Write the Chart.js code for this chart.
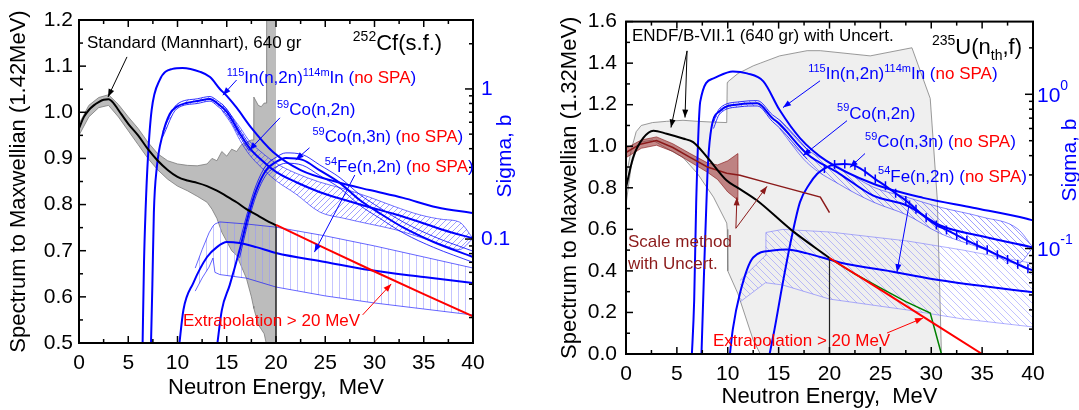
<!DOCTYPE html>
<html>
<head>
<meta charset="utf-8">
<script src="https://cdn.jsdelivr.net/npm/chart.js@4.4.1/dist/chart.umd.min.js"></script>
<style>
  html, body { margin: 0; padding: 0; background: #fff; }
  #quadro { position: relative; width: 1079px; height: 410px; overflow: hidden; }
  canvas { position: absolute; top: 0; }
</style>
</head>
<body>
<div id="quadro">
  <canvas id="graficoCf" width="540" height="410" style="left:0"></canvas>
  <canvas id="graficoU" width="539" height="410" style="left:540px"></canvas>
</div>
<script>
// ---------- eixos ----------
var eixo_x_ticks = [0, 5, 10, 15, 20, 25, 30, 35, 40];
var cf_sigma_ticks = [1, 0.1];
var cf_sigma_rotulos = ['1', '0.1'];
var u_sigma_ticks = [1, 0.1];
var u_sigma_expoentes = ['0', '-1'];

// ---------- painel esquerdo: 252Cf(s.f.) ----------
// espectro padrao (Mannhart) / Maxwelliana
var cf_e = [0, 0.5, 1, 1.5, 2, 2.5, 3, 3.5, 4, 5, 6, 7, 8, 9, 10, 11, 12, 13, 14, 15, 16, 17, 18, 19, 20];
var cf_padrao = [0.965, 0.99, 1.005, 1.015, 1.022, 1.027, 1.028, 1.02, 1.005, 0.975, 0.95, 0.92, 0.895, 0.875, 0.86, 0.852, 0.847, 0.84, 0.83, 0.818, 0.805, 0.79, 0.778, 0.766, 0.755];
// incerteza (faixa cinza)
var cf_banda_e = [0, 1, 2, 3, 4, 5, 6, 7, 8, 9, 10, 11, 12, 13, 13.5, 14, 14.5, 15, 15.5, 16, 16.5, 17, 17.5, 17.7, 17.75, 18.2, 18.5, 18.8, 19, 19.05, 20];
var cf_banda_hi = [0.975, 1.015, 1.032, 1.038, 1.017, 0.99, 0.965, 0.935, 0.91, 0.895, 0.888, 0.885, 0.884, 0.888, 0.9, 0.895, 0.915, 0.905, 0.92, 0.915, 0.93, 0.935, 0.94, 0.94, 1.033, 1.015, 1.012, 1.02, 1.02, 1.2, 1.2];
var cf_banda_lo = [0.95, 0.99, 1.01, 1.015, 0.99, 0.96, 0.93, 0.9, 0.875, 0.855, 0.84, 0.83, 0.818, 0.805, 0.79, 0.77, 0.74, 0.72, 0.70, 0.69, 0.665, 0.64, 0.6, 0.58, 0.575, 0.54, 0.53, 0.52, 0.5, 0.5, 0.5];
var cf_vert_e = [20, 20];
var cf_vert = [0.755, 0.5];
var cf_extrap_e = [20, 25, 30, 35, 40];
var cf_extrap = [0.756, 0.705, 0.655, 0.606, 0.558];
// secoes de choque (barn)
var cf_in_e = [6.45, 6.6, 6.76, 7.0, 7.37, 8.2, 9.5, 10.5, 12.3, 13.3, 14.3, 15, 16, 17.5, 19.7, 22.5, 26.2, 29.5, 32.9, 36.3, 40];
var cf_in = [0.019, 0.07, 0.156, 0.35, 0.72, 1.15, 1.36, 1.38, 1.30, 1.20, 1.0, 0.9, 0.75, 0.55, 0.38, 0.288, 0.24, 0.212, 0.188, 0.163, 0.149];
var cf_co2n_e = [7.3, 7.45, 7.6, 7.9, 8.5, 9.2, 9.9, 10.9, 12, 13.3, 14, 15, 16.3, 17.3, 18.5, 20, 22, 24.4, 27, 29.5, 32, 34.6, 37, 40];
var cf_co2n = [0.019, 0.05, 0.15, 0.3, 0.5, 0.68, 0.76, 0.807, 0.83, 0.858, 0.807, 0.703, 0.509, 0.405, 0.337, 0.28, 0.24, 0.206, 0.182, 0.163, 0.147, 0.13, 0.115, 0.101];
var cf_co2n_bd_e = [8.5, 9.9, 12, 13.3, 14, 15, 16.3, 17.3];
var cf_co2n_bd_hi = [0.52, 0.785, 0.86, 0.89, 0.84, 0.735, 0.535, 0.425];
var cf_co2n_bd_lo = [0.48, 0.735, 0.8, 0.83, 0.775, 0.67, 0.485, 0.385];
var cf_co2n_larga_e = [14.5, 15.5, 16.3, 17.3, 18.5, 20, 22, 24.4, 27, 29.5, 32, 34.6, 37, 38.6, 40];
var cf_co2n_larga_hi = [0.8, 0.66, 0.56, 0.45, 0.38, 0.32, 0.275, 0.24, 0.215, 0.19, 0.165, 0.145, 0.135, 0.13, 0.101];
var cf_co2n_larga_lo = [0.72, 0.58, 0.46, 0.365, 0.3, 0.245, 0.2, 0.152, 0.137, 0.126, 0.116, 0.103, 0.091, 0.085, 0.101];
var cf_co3n_e = [14.0, 14.5, 15.3, 16.3, 17.2, 18, 19, 20, 21, 22.7, 24.4, 26.5, 28.5, 30.5, 33, 36, 40];
var cf_co3n = [0.019, 0.0336, 0.0493, 0.0844, 0.1445, 0.212, 0.288, 0.326, 0.347, 0.337, 0.288, 0.236, 0.182, 0.149, 0.1186, 0.0956, 0.0759];
var cf_co3n_bd_e = [16.3, 17.2, 18, 19, 20, 21, 22.7, 24.4, 26.5, 28.5, 30.5, 33, 36, 40];
var cf_co3n_bd_hi = [0.095, 0.158, 0.23, 0.31, 0.35, 0.375, 0.365, 0.313, 0.256, 0.198, 0.162, 0.129, 0.104, 0.083];
var cf_co3n_bd_lo = [0.075, 0.132, 0.196, 0.268, 0.302, 0.32, 0.31, 0.266, 0.218, 0.168, 0.138, 0.109, 0.088, 0.07];
var cf_fe_e = [10.15, 10.6, 11.6, 13, 14, 15, 16.3, 18, 20, 25, 29.5, 35, 40];
var cf_fe = [0.019, 0.0337, 0.0509, 0.0759, 0.0884, 0.0956, 0.0941, 0.0884, 0.0807, 0.0703, 0.0621, 0.0558, 0.0509];
var cf_fe_bd_e = [11.8, 12.5, 13.2, 13.6, 13.8, 14.3, 17, 20, 25, 30, 35, 40];
var cf_fe_bd_hi = [0.0641, 0.085, 0.11, 0.122, 0.126, 0.13, 0.126, 0.12, 0.105, 0.09, 0.076, 0.0641];
var cf_fe_bd_lo = [0.045, 0.055, 0.065, 0.0747, 0.06, 0.058, 0.0549, 0.0479, 0.0418, 0.0375, 0.0342, 0.0312];

// ---------- painel direito: 235U(nth,f) ----------
var u_endf_e = [0, 0.7, 1.7, 2.7, 4, 5.6, 6.6, 8, 9.9, 11, 12.85, 16.3, 20];
var u_endf = [0.8, 0.946, 1.04, 1.075, 1.06, 1.037, 1.02, 0.946, 0.835, 0.8, 0.74, 0.595, 0.462];
var u_banda_e = [0, 0.5, 1, 1.5, 2.6, 4, 5.6, 7, 8.6, 9.9, 9.95, 10, 11, 12.5, 13.2, 15.1, 17.8, 19.1, 24, 28.1, 29.9, 30.6, 31];
var u_banda_hi = [0.85, 0.98, 1.07, 1.1, 1.114, 1.12, 1.125, 1.12, 1.116, 1.114, 1.306, 1.31, 1.35, 1.387, 1.40, 1.435, 1.46, 1.46, 1.435, 1.474, 1.23, 0.74, 0];
var u_banda_lo = [0.72, 0.9, 0.98, 1.02, 1.03, 0.99, 0.946, 0.87, 0.755, 0.63, 0.6, 0.4, 0.29, 0.067, 0, 0, 0, 0, 0, 0, 0, 0, 0];
var u_vert_e = [20, 20];
var u_vert = [0.462, 0];
var u_extrap_e = [20, 25, 30, 35];
var u_extrap = [0.462, 0.31, 0.155, 0];
var u_verde_e = [20, 22.5, 25, 27.5, 29.9, 31];
var u_verde = [0.462, 0.385, 0.318, 0.252, 0.197, 0];
var u_escala_e = [0, 1.4, 3, 4.6, 6.3, 8, 9.9, 11.2, 14.2, 19.1, 20];
var u_escala = [0.97, 1.01, 1.027, 0.994, 0.946, 0.9, 0.87, 0.86, 0.82, 0.755, 0.68];
var u_escala_bd_e = [0, 1.5, 3, 4.6, 6.3, 8, 9, 10, 11, 11.01];
var u_escala_bd_hi = [0.99, 1.03, 1.045, 1.012, 0.965, 0.92, 0.91, 0.93, 0.965, 0.86];
var u_escala_bd_lo = [0.945, 0.99, 1.005, 0.975, 0.925, 0.875, 0.84, 0.78, 0.74, 0.86];
var u_in_e = [6.45, 6.7, 6.9, 7.3, 8.6, 10.5, 11.9, 13.5, 15.1, 17.1, 19.7, 24.3, 29.2, 34.1, 39.4, 40];
var u_in = [0.019, 0.046, 0.2, 0.9, 1.268, 1.407, 1.366, 1.213, 0.79, 0.52, 0.37, 0.263, 0.213, 0.184, 0.156, 0.152];
var u_co2n_e = [7.4, 7.6, 8.0, 8.3, 9.2, 11.2, 12.9, 14.4, 15.1, 17.8, 21, 24.3, 27.6, 30.9, 35, 40];
var u_co2n = [0.019, 0.05, 0.3, 0.55, 0.777, 0.862, 0.875, 0.7, 0.641, 0.41, 0.305, 0.22, 0.19, 0.141, 0.12, 0.1015];
var u_co2n_bd_e = [8.6, 9.2, 11.2, 12.9, 14.4, 15.1, 17.8];
var u_co2n_bd_hi = [0.66, 0.81, 0.895, 0.91, 0.735, 0.68, 0.44];
var u_co2n_bd_lo = [0.6, 0.745, 0.83, 0.84, 0.665, 0.605, 0.38];
var u_co2n_larga_e = [15.1, 17.8, 21, 24.3, 27.6, 30.9, 35, 38.5, 40];
var u_co2n_larga_hi = [0.68, 0.44, 0.335, 0.25, 0.215, 0.185, 0.16, 0.134, 0.1015];
var u_co2n_larga_lo = [0.6, 0.36, 0.26, 0.2, 0.165, 0.125, 0.1, 0.08, 0.1015];
var u_co3n_e = [14, 14.6, 15.4, 16.3, 17.1, 18.0, 18.8, 19.5, 20.5, 21.5, 22.5, 23.5, 24.5, 25.5, 26.5, 27.5, 28.5, 29.5, 30.5, 31.5, 32.5, 33.5, 34.5, 35.5, 36.5, 37.5, 38.5, 39.5, 40];
var u_co3n = [0.019, 0.03, 0.0594, 0.12, 0.2, 0.26, 0.305, 0.33, 0.35, 0.353, 0.345, 0.315, 0.282, 0.255, 0.228, 0.205, 0.18, 0.158, 0.142, 0.132, 0.122, 0.113, 0.105, 0.098, 0.091, 0.085, 0.079, 0.074, 0.0723];
var u_fe_e = [10.15, 10.5, 11.2, 12.5, 14.4, 15.8, 17.8, 21, 26.6, 30.9, 40];
var u_fe = [0.019, 0.03, 0.0513, 0.0875, 0.097, 0.0985, 0.093, 0.0812, 0.07, 0.0622, 0.052];
var u_fe_bd_e = [11.2, 13.7, 13.75, 15.4, 20, 27.6, 33, 40];
var u_fe_bd_hi = [0.062, 0.09, 0.127, 0.133, 0.128, 0.112, 0.098, 0.08];
var u_fe_bd_lo = [0.045, 0.06, 0.06, 0.058, 0.047, 0.04, 0.035, 0.031];

var AZUL = '#0000ff';
var VERMELHO = '#ff0000';
var VINHO = '#8b1a1a';
var FONTE = '"Liberation Sans", Arial, sans-serif';
Chart.defaults.font.family = FONTE;

// textos e setas (posicoes em unidades dos eixos x / y esquerdo)
var cf_notas = [
  { e: 0.81, v: 1.139, tam: 17, cor: '#000', partes: [{ t: 'Standard (Mannhart), 640 gr' }] },
  { e: 27.8, v: 1.135, tam: 22, cor: '#000', partes: [{ t: '252', sup: 1 }, { t: 'Cf(s.f.)' }] },
  { e: 15.0, v: 1.0635, tam: 17, cor: AZUL, partes: [{ t: '115', sup: 1 }, { t: 'In(n,2n)' }, { t: '114m', sup: 1 }, { t: 'In (' }, { t: 'no SPA', c: VERMELHO }, { t: ')' }] },
  { e: 20.1, v: 0.994, tam: 17, cor: AZUL, partes: [{ t: '59', sup: 1 }, { t: 'Co(n,2n)' }] },
  { e: 23.7, v: 0.936, tam: 17, cor: AZUL, partes: [{ t: '59', sup: 1 }, { t: 'Co(n,3n) (' }, { t: 'no SPA', c: VERMELHO }, { t: ')' }] },
  { e: 24.95, v: 0.871, tam: 17, cor: AZUL, partes: [{ t: '54', sup: 1 }, { t: 'Fe(n,2n) (' }, { t: 'no SPA', c: VERMELHO }, { t: ')' }] },
  { e: 10.55, v: 0.537, tam: 17, cor: VERMELHO, partes: [{ t: 'Extrapolation > 20 MeV' }] }
];
var cf_setas = [
  { de: [4.87, 1.12], ate: [2.94, 1.033], cor: '#000' },
  { de: [16.0, 1.07], ate: [14.6, 1.037], cor: AZUL },
  { de: [20.4, 0.988], ate: [17.3, 0.918], cor: AZUL },
  { de: [23.4, 0.923], ate: [22.0, 0.897], cor: AZUL },
  { de: [28.0, 0.864], ate: [23.9, 0.697], cor: AZUL },
  { de: [28.8, 0.561], ate: [31.7, 0.628], cor: VERMELHO }
];
var u_notas = [
  { e: 0.59, v: 1.507, tam: 17, cor: '#000', partes: [{ t: 'ENDF/B-VII.1 (640 gr) with Uncert.' }] },
  { e: 30.07, v: 1.445, tam: 22, cor: '#000', partes: [{ t: '235', sup: 1 }, { t: 'U(n' }, { t: 'th', sub: 1 }, { t: ',f)' }] },
  { e: 17.9, v: 1.325, tam: 17, cor: AZUL, partes: [{ t: '115', sup: 1 }, { t: 'In(n,2n)' }, { t: '114m', sup: 1 }, { t: 'In (' }, { t: 'no SPA', c: VERMELHO }, { t: ')' }] },
  { e: 20.74, v: 1.133, tam: 17, cor: AZUL, partes: [{ t: '59', sup: 1 }, { t: 'Co(n,2n)' }] },
  { e: 23.49, v: 0.994, tam: 17, cor: AZUL, partes: [{ t: '59', sup: 1 }, { t: 'Co(n,3n) (' }, { t: 'no SPA', c: VERMELHO }, { t: ')' }] },
  { e: 24.77, v: 0.83, tam: 17, cor: AZUL, partes: [{ t: '54', sup: 1 }, { t: 'Fe(n,2n) (' }, { t: 'no SPA', c: VERMELHO }, { t: ')' }] },
  { e: 0.2, v: 0.514, tam: 17, cor: VINHO, partes: [{ t: 'Scale method' }] },
  { e: 0.2, v: 0.408, tam: 17, cor: VINHO, partes: [{ t: 'with Uncert.' }] },
  { e: 8.55, v: 0.038, tam: 17, cor: VERMELHO, partes: [{ t: 'Extrapolation > 20 MeV' }] }
];
var u_setas = [
  { de: [6.0, 1.459], ate: [4.42, 1.09], cor: '#000' },
  { de: [6.0, 1.459], ate: [5.8, 1.138], cor: '#000' },
  { de: [19.07, 1.315], ate: [15.43, 1.186], cor: AZUL },
  { de: [21.72, 1.123], ate: [17.4, 0.955], cor: AZUL },
  { de: [23.49, 0.965], ate: [22.0, 0.898], cor: AZUL },
  { de: [27.9, 0.739], ate: [26.63, 0.394], cor: AZUL },
  { de: [10.8, 0.605], ate: [10.9, 0.754], cor: VINHO },
  { de: [10.8, 0.605], ate: [13.86, 0.807], cor: VINHO },
  { de: [25.65, 0.101], ate: [29.19, 0.173], cor: VERMELHO }
];

function pontos(xs, ys) {
  return xs.map(function (x, i) { return { x: x, y: ys[i] }; });
}

function serie(xs, ys, eixo, extra) {
  var d = {
    data: pontos(xs, ys),
    yAxisID: eixo,
    borderColor: AZUL,
    borderWidth: 2,
    pointRadius: 0,
    fill: false,
    tension: 0
  };
  return Object.assign(d, extra || {});
}

function hachura(cor, tipo, passo) {
  var c = document.createElement('canvas');
  c.width = passo; c.height = passo;
  var g = c.getContext('2d');
  g.strokeStyle = cor;
  g.lineWidth = 1;
  g.beginPath();
  if (tipo === 'v') {
    g.moveTo(passo / 2, 0); g.lineTo(passo / 2, passo);
  } else if (tipo === '/') {
    g.moveTo(0, passo); g.lineTo(passo, 0);
    g.moveTo(-passo, passo); g.lineTo(passo, -passo);
    g.moveTo(0, 2 * passo); g.lineTo(2 * passo, 0);
  } else {
    g.moveTo(0, 0); g.lineTo(passo, passo);
    g.moveTo(-passo, 0); g.lineTo(passo, 2 * passo);
    g.moveTo(0, -passo); g.lineTo(2 * passo, passo);
  }
  g.stroke();
  return g.createPattern(c, 'repeat');
}

function textoRico(ctx, x, y, partes, tam, corBase) {
  var cx = x;
  ctx.textAlign = 'left';
  ctx.textBaseline = 'alphabetic';
  partes.forEach(function (p) {
    var pequeno = p.sup || p.sub;
    var t = pequeno ? Math.round(tam * 0.64) : tam;
    ctx.font = t + 'px ' + FONTE;
    ctx.fillStyle = p.c || corBase;
    var dy = p.sup ? -tam * 0.42 : (p.sub ? tam * 0.28 : 0);
    ctx.fillText(p.t, cx, y + dy);
    cx += ctx.measureText(p.t).width;
  });
}

function seta(ctx, x1, y1, x2, y2, cor) {
  var ang = Math.atan2(y2 - y1, x2 - x1);
  ctx.strokeStyle = cor;
  ctx.fillStyle = cor;
  ctx.lineWidth = 1;
  ctx.beginPath(); ctx.moveTo(x1, y1); ctx.lineTo(x2, y2); ctx.stroke();
  ctx.beginPath();
  ctx.moveTo(x2, y2);
  ctx.lineTo(x2 - 8 * Math.cos(ang) + 3 * Math.sin(ang), y2 - 8 * Math.sin(ang) - 3 * Math.cos(ang));
  ctx.lineTo(x2 - 8 * Math.cos(ang) - 3 * Math.sin(ang), y2 - 8 * Math.sin(ang) + 3 * Math.cos(ang));
  ctx.closePath(); ctx.fill();
}

// moldura, marcas internas, eixo log a direita e anotacoes
function criarDecoracao(cfg) {
  return {
    id: 'decoracao',
    afterDraw: function (chart) {
      var ctx = chart.ctx, a = chart.chartArea;
      var sx = chart.scales.x, sy = chart.scales.y, s2 = chart.scales.y2;
      ctx.save();
      ctx.strokeStyle = '#000';
      ctx.lineWidth = 1.5;
      function traco(x1, y1, x2, y2) { ctx.beginPath(); ctx.moveTo(x1, y1); ctx.lineTo(x2, y2); ctx.stroke(); }

      var xt = sx.ticks.map(function (t) { return t.value; });
      xt.forEach(function (v, i) {
        var p = sx.getPixelForValue(v);
        traco(p, a.bottom, p, a.bottom - 7);
        traco(p, a.top, p, a.top + 7);
        if (i < xt.length - 1) {
          var m = sx.getPixelForValue((v + xt[i + 1]) / 2);
          traco(m, a.bottom, m, a.bottom - 4);
          traco(m, a.top, m, a.top + 4);
        }
      });
      var yt = sy.ticks.map(function (t) { return t.value; });
      yt.forEach(function (v, i) {
        var p = sy.getPixelForValue(v);
        traco(a.left, p, a.left + 7, p);
        if (i < yt.length - 1) {
          var m = sy.getPixelForValue((v + yt[i + 1]) / 2);
          traco(a.left, m, a.left + 4, m);
        }
      });
      s2.ticks.forEach(function (t) {
        var v = t.value;
        var pot = Math.floor(Math.log10(v) + 1e-9);
        var sig = v / Math.pow(10, pot);
        if (Math.abs(sig - Math.round(sig)) > 1e-6) return;
        var p = s2.getPixelForValue(v);
        if (p < a.top || p > a.bottom) return;
        var maior = Math.round(sig) === 1;
        traco(a.right, p, a.right - (maior ? 8 : 4), p);
      });

      ctx.lineWidth = 2;
      ctx.strokeRect(a.left, a.top, a.right - a.left, a.bottom - a.top);

      // rotulos do eixo sigma
      ctx.fillStyle = AZUL;
      ctx.textBaseline = 'middle';
      ctx.textAlign = 'left';
      cfg.sigmaTicks.forEach(function (v, i) {
        var p = s2.getPixelForValue(v);
        if (cfg.sigmaRotulos) {
          ctx.font = '21px ' + FONTE;
          ctx.fillText(cfg.sigmaRotulos[i], a.right + cfg.dxRotulo, p);
        } else {
          ctx.font = '21px ' + FONTE;
          ctx.fillText('10', a.right + cfg.dxRotulo, p + 2);
          var w = ctx.measureText('10').width;
          ctx.font = '14px ' + FONTE;
          ctx.fillText(cfg.sigmaExp[i], a.right + cfg.dxRotulo + w, p - 8);
        }
      });
      ctx.save();
      ctx.translate(cfg.tituloSigma[0], cfg.tituloSigma[1]);
      ctx.rotate(-Math.PI / 2);
      ctx.textAlign = 'center';
      ctx.font = '21px ' + FONTE;
      ctx.fillText('Sigma, b', 0, 0);
      ctx.restore();

      cfg.setas.forEach(function (s) {
        seta(ctx, sx.getPixelForValue(s.de[0]), sy.getPixelForValue(s.de[1]),
          sx.getPixelForValue(s.ate[0]), sy.getPixelForValue(s.ate[1]), s.cor);
      });
      cfg.notas.forEach(function (n) {
        textoRico(ctx, sx.getPixelForValue(n.e), sy.getPixelForValue(n.v), n.partes, n.tam, n.cor);
      });
      ctx.restore();
    }
  };
}

function opcoes(medidas, yMin, yMax, yPasso, sMin, sMax, titulo) {
  return {
    responsive: false,
    animation: false,
    events: [],
    layout: { padding: { top: medidas.topo, left: 0, right: 0, bottom: 0 } },
    plugins: { legend: { display: false }, tooltip: { enabled: false } },
    scales: {
      x: {
        type: 'linear', min: 0, max: 40,
        afterBuildTicks: function (s) { s.ticks = eixo_x_ticks.map(function (v) { return { value: v }; }); },
        ticks: { color: '#000', font: { size: 21 }, padding: medidas.padX, maxRotation: 0, autoSkip: false },
        grid: { display: false, drawTicks: false },
        border: { display: false },
        title: { display: true, text: 'Neutron Energy,  MeV', color: '#000', font: { size: 22 }, padding: { top: 0, bottom: medidas.tituloX } },
        afterFit: function (s) { s.height = medidas.altX; }
      },
      y: {
        type: 'linear', position: 'left', min: yMin, max: yMax,
        ticks: { stepSize: yPasso, color: '#000', font: { size: 21 }, padding: medidas.padY, callback: function (v) { return v.toFixed(1); } },
        grid: { display: false, drawTicks: false },
        border: { display: false },
        title: { display: true, text: titulo, color: '#000', font: { size: 22 }, padding: { top: medidas.tituloY, bottom: 0 } },
        afterFit: function (s) { s.width = medidas.largY; }
      },
      y2: {
        type: 'logarithmic', position: 'right', min: sMin, max: sMax,
        ticks: { display: false },
        grid: { display: false, drawTicks: false },
        border: { display: false },
        afterFit: function (s) { s.width = medidas.largY2; }
      }
    }
  };
}

// ---------- grafico esquerdo ----------
var cinzaHach = hachura('rgba(80,80,255,0.55)', '/', 6);
var vertHach = hachura('rgba(150,150,255,0.55)', 'v', 7);

var dadosCf = [
  serie(cf_extrap_e, cf_extrap, 'y', { borderColor: VERMELHO, borderWidth: 2 }),
  serie(cf_e, cf_padrao, 'y', { borderColor: '#000', borderWidth: 2, cubicInterpolationMode: 'monotone' }),
  serie(cf_vert_e, cf_vert, 'y', { borderColor: '#222', borderWidth: 1.5 }),
  serie(cf_in_e, cf_in, 'y2', { cubicInterpolationMode: 'monotone' }),
  serie(cf_co2n_e, cf_co2n, 'y2', { cubicInterpolationMode: 'monotone' }),
  serie(cf_co3n_e, cf_co3n, 'y2', { cubicInterpolationMode: 'monotone' }),
  serie(cf_fe_e, cf_fe, 'y2', { cubicInterpolationMode: 'monotone' }),
  serie(cf_co3n_bd_e, cf_co3n_bd_hi, 'y2', { borderWidth: 0.8, cubicInterpolationMode: 'monotone' }),
  serie(cf_co3n_bd_e, cf_co3n_bd_lo, 'y2', { borderWidth: 0.8, cubicInterpolationMode: 'monotone' }),
  serie(cf_co2n_bd_e, cf_co2n_bd_hi, 'y2', { borderWidth: 0.8, cubicInterpolationMode: 'monotone' }),
  serie(cf_co2n_bd_e, cf_co2n_bd_lo, 'y2', { borderWidth: 0.8, cubicInterpolationMode: 'monotone', fill: '-1', backgroundColor: cinzaHach }),
  serie(cf_co2n_larga_e, cf_co2n_larga_hi, 'y2', { borderWidth: 0.8, borderColor: 'rgba(0,0,255,0.7)', cubicInterpolationMode: 'monotone' }),
  serie(cf_co2n_larga_e, cf_co2n_larga_lo, 'y2', { borderWidth: 0.8, borderColor: 'rgba(0,0,255,0.7)', cubicInterpolationMode: 'monotone', fill: '-1', backgroundColor: cinzaHach }),
  serie(cf_fe_bd_e, cf_fe_bd_hi, 'y2', { borderWidth: 0.8, borderColor: 'rgba(0,0,255,0.75)' }),
  serie(cf_fe_bd_e, cf_fe_bd_lo, 'y2', { borderWidth: 0.8, borderColor: 'rgba(0,0,255,0.75)', fill: '-1', backgroundColor: vertHach }),
  serie(cf_banda_e, cf_banda_hi, 'y', { borderWidth: 0.8, borderColor: '#7a7a7a' }),
  serie(cf_banda_e, cf_banda_lo, 'y', { borderWidth: 0.8, borderColor: '#7a7a7a', fill: '-1', backgroundColor: '#bcbcbc' })
];

var Grafico_Cf = new Chart(document.getElementById('graficoCf'), {
  type: 'line',
  data: { datasets: dadosCf },
  options: opcoes({ topo: 20, altX: 67, largY: 79, largY2: 67, padX: 8, padY: 6, tituloX: 9, tituloY: 6 },
    0.5, 1.2, 0.1, 0.0203, 2.88, 'Spectrum to Maxwellian (1.42MeV)'),
  plugins: [criarDecoracao({ notas: cf_notas, setas: cf_setas, sigmaTicks: cf_sigma_ticks, sigmaRotulos: cf_sigma_rotulos, dxRotulo: 8, tituloSigma: [505, 156] })]
});

// ---------- grafico direito ----------
var azulHach = hachura('rgba(80,80,255,0.55)', '\\', 6);
var feHach = hachura('rgba(120,120,255,0.45)', '\\', 7);

var dadosU = [
  serie(u_extrap_e, u_extrap, 'y', { borderColor: VERMELHO, borderWidth: 2 }),
  serie(u_verde_e, u_verde, 'y', { borderColor: '#008000', borderWidth: 1.5 }),
  serie(u_endf_e, u_endf, 'y', { borderColor: '#000', borderWidth: 2, cubicInterpolationMode: 'monotone' }),
  serie(u_vert_e, u_vert, 'y', { borderColor: '#222', borderWidth: 1.2 }),
  serie(u_escala_e, u_escala, 'y', { borderColor: VINHO, borderWidth: 1.5 }),
  serie(u_in_e, u_in, 'y2', { cubicInterpolationMode: 'monotone' }),
  serie(u_co2n_e, u_co2n, 'y2', { cubicInterpolationMode: 'monotone' }),
  serie(u_co3n_e, u_co3n, 'y2', {
    cubicInterpolationMode: 'monotone',
    pointStyle: 'line', pointRotation: 90, pointBorderColor: AZUL, pointBorderWidth: 1.5,
    pointRadius: function (c) { return c.raw && c.raw.x >= 19 ? 4.5 : 0; }
  }),
  serie(u_fe_e, u_fe, 'y2', { cubicInterpolationMode: 'monotone' }),
  serie(u_escala_bd_e, u_escala_bd_hi, 'y', { borderWidth: 0.8, borderColor: 'rgba(139,26,26,0.8)' }),
  serie(u_escala_bd_e, u_escala_bd_lo, 'y', { borderWidth: 0.8, borderColor: 'rgba(139,26,26,0.8)', fill: '-1', backgroundColor: 'rgba(150,40,40,0.55)' }),
  serie(u_co2n_bd_e, u_co2n_bd_hi, 'y2', { borderWidth: 0.8, cubicInterpolationMode: 'monotone' }),
  serie(u_co2n_bd_e, u_co2n_bd_lo, 'y2', { borderWidth: 0.8, cubicInterpolationMode: 'monotone', fill: '-1', backgroundColor: azulHach }),
  serie(u_co2n_larga_e, u_co2n_larga_hi, 'y2', { borderWidth: 0.8, borderColor: 'rgba(0,0,255,0.6)', cubicInterpolationMode: 'monotone' }),
  serie(u_co2n_larga_e, u_co2n_larga_lo, 'y2', { borderWidth: 0.8, borderColor: 'rgba(0,0,255,0.6)', cubicInterpolationMode: 'monotone', fill: '-1', backgroundColor: azulHach }),
  serie(u_fe_bd_e, u_fe_bd_hi, 'y2', { borderWidth: 0.8, borderColor: 'rgba(90,90,255,0.6)' }),
  serie(u_fe_bd_e, u_fe_bd_lo, 'y2', { borderWidth: 0.8, borderColor: 'rgba(90,90,255,0.6)', fill: '-1', backgroundColor: feHach }),
  serie(u_banda_e, u_banda_hi, 'y', { borderWidth: 0.8, borderColor: '#808080' }),
  serie(u_banda_e, u_banda_lo, 'y', { borderWidth: 0.8, borderColor: '#808080', fill: '-1', backgroundColor: '#efefef' })
];

var Grafico_U = new Chart(document.getElementById('graficoU'), {
  type: 'line',
  data: { datasets: dadosU },
  options: opcoes({ topo: 21, altX: 56, largY: 86, largY2: 46, padX: 8, padY: 9, tituloX: 0, tituloY: 17 },
    0, 1.6, 0.2, 0.0207, 2.96, 'Spectrum to Maxwellian (1.32MeV)'),
  plugins: [criarDecoracao({ notas: u_notas, setas: u_setas, sigmaTicks: u_sigma_ticks, sigmaExp: u_sigma_expoentes, dxRotulo: 4, tituloSigma: [530, 160] })]
});
</script>
</body>
</html>
